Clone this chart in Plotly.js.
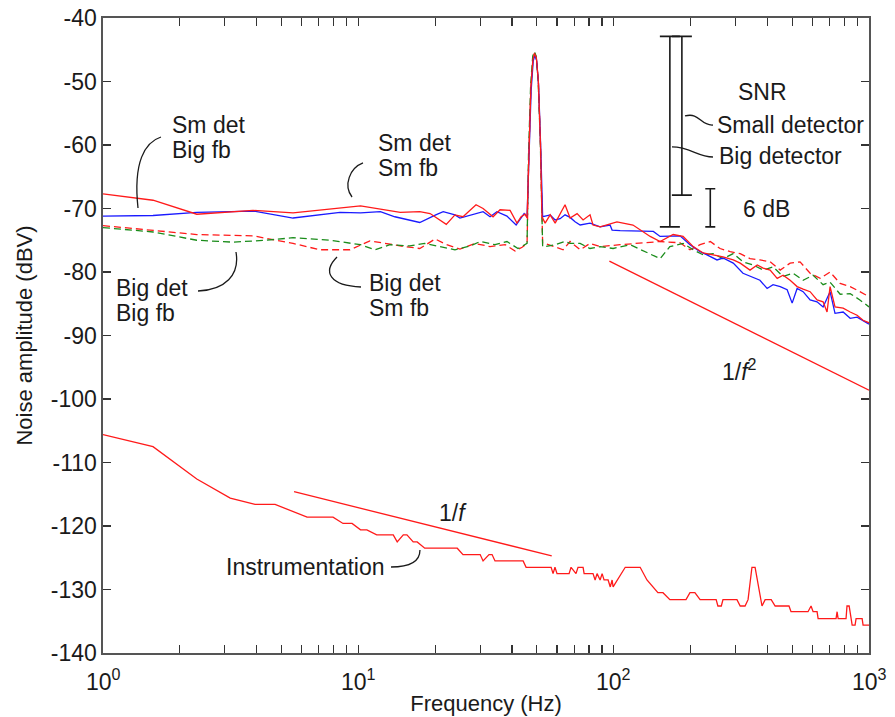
<!DOCTYPE html>
<html>
<head>
<meta charset="utf-8">
<script src="https://cdn.plot.ly/plotly-3.0.1.min.js"></script>
<style>
  html, body { margin: 0; padding: 0; background: #fff; }
  #chart { width: 895px; height: 717px; }
</style>
</head>
<body>
<div id="chart"></div>
<script>
// Noise spectra (dBV) versus frequency (Hz) for detector / feedback combinations.

// Small detector, small feedback (red solid)
const freqSmSm = [1.00, 1.57, 2.33, 3.87, 5.55, 8.48, 10.2, 14.6, 17.4, 19.1, 22.1, 23.9, 25.7, 28.9, 30.8, 33.7, 35.9, 39.3, 41.8, 43.4, 45.0, 45.8,
  46.5, 47.4, 48.3, 49.0, 49.8, 50.7, 51.7, 52.4,
  53.9, 56.4, 59.0, 61.7, 64.5, 67.5, 71.9, 75.9, 80.8, 83.0, 88.5, 103, 119, 139, 152, 171, 187, 205, 224, 245, 268, 294, 313, 342, 365, 385, 410, 437, 461, 491, 523, 552, 588, 626, 661, 685, 704, 736, 792, 844, 898, 948, 1000];
const ampSmSm = [-67.7, -68.7, -70.9, -70.3, -70.7, -69.9, -69.6, -70.6, -70.5, -70.8, -72.5, -71.0, -71.3, -69.4, -70.0, -71.3, -70.2, -70.3, -72.3, -71.3, -70.9, -71.5,
  -62.0, -51.0, -46.5, -45.6, -46.3, -50.0, -60.0, -71.3,
  -72.3, -71.0, -72.3, -70.8, -69.4, -71.5, -70.8, -71.8, -71.0, -72.6, -72.9, -72.1, -72.6, -74.4, -75.2, -74.1, -74.4, -76.0, -77.0, -77.3, -77.6, -78.1, -78.6, -79.7, -78.9, -79.4, -79.7, -81.0, -80.5, -81.3, -82.3, -82.7, -83.1, -84.4, -84.7, -86.3, -82.3, -85.5, -85.7, -86.3, -86.8, -87.6, -88.0];

// Small detector, big feedback (blue solid)
const freqSmBig = [1.00, 1.57, 2.33, 3.87, 5.55, 8.48, 10.2, 12.2, 13.9, 17.4, 20.1, 21.5, 23.9, 25.0, 30.8, 32.8, 34.9, 38.2, 41.5, 43.0, 44.6, 45.8,
  46.6, 47.5, 48.4, 49.1, 49.9, 50.8, 51.8, 52.7,
  53.9, 56.4, 59.0, 61.7, 64.5, 67.5, 70.6, 73.9, 80.8, 88.5, 96.8, 98.6, 106, 127, 143, 152, 166, 182, 199, 218, 232, 254, 268, 294, 321, 342, 374, 399, 421, 449, 478, 500, 523, 552, 588, 626, 661, 704, 736, 792, 844, 898, 948, 1000];
const ampSmBig = [-71.2, -71.1, -70.6, -70.4, -71.5, -70.6, -70.7, -70.5, -71.3, -72.2, -71.0, -70.5, -71.0, -71.5, -70.5, -71.3, -70.5, -71.2, -72.6, -71.8, -70.8, -71.3,
  -62.5, -51.5, -46.8, -45.9, -46.6, -50.5, -60.5, -71.3,
  -71.2, -71.0, -71.8, -71.6, -71.0, -71.4, -72.1, -72.6, -72.3, -72.9, -72.6, -73.4, -73.5, -73.6, -73.6, -74.4, -74.3, -74.3, -75.7, -76.8, -77.3, -78.1, -77.8, -78.6, -80.2, -80.7, -81.3, -82.6, -82.0, -82.3, -82.8, -84.9, -82.6, -83.1, -84.4, -84.7, -85.5, -83.1, -86.5, -86.3, -87.3, -87.1, -87.6, -88.2];

// Big detector, small feedback (red dashed)
const freqBigSm = [1.00, 1.57, 2.33, 3.87, 5.55, 7.08, 8.48, 9.28, 11.1, 12.7, 15.2, 17.4, 20.0, 21.9, 25.0, 28.6, 32.8, 37.6, 41.1, 43.8, 45.8,
  46.5, 47.4, 48.3, 49.0, 49.8, 50.7, 51.7, 52.7,
  53.9, 59.0, 63.4, 67.5, 73.9, 80.8, 88.5, 106, 127, 152, 182, 199, 218, 239, 261, 286, 313, 342, 374, 410, 449, 491, 537, 588, 644, 704, 771, 844, 921, 1000];
const ampBigSm = [-72.7, -73.5, -74.1, -74.3, -75.5, -76.5, -76.5, -76.5, -75.1, -75.5, -76.0, -76.3, -74.8, -75.6, -76.4, -75.5, -76.0, -75.7, -76.7, -76.1, -75.5,
  -62.0, -51.0, -46.3, -45.5, -46.2, -50.0, -60.0, -75.5,
  -75.5, -76.0, -76.5, -75.2, -76.5, -75.5, -76.0, -75.7, -75.5, -75.2, -75.4, -76.5, -75.7, -75.2, -76.3, -76.8, -77.1, -77.9, -78.1, -78.4, -79.7, -78.6, -78.4, -80.2, -81.0, -80.0, -81.8, -82.3, -83.1, -83.9];

// Big detector, big feedback (green dashed)
const freqBigBig = [1.00, 1.57, 2.33, 3.23, 4.35, 5.55, 7.75, 9.28, 10.2, 11.6, 13.3, 15.9, 18.2, 20.9, 23.9, 27.4, 30.0, 34.3, 38.2, 42.2, 45.8,
  46.4, 47.3, 48.2, 48.9, 49.7, 50.6, 51.6, 52.7,
  53.9, 59.0, 64.5, 67.5, 73.9, 80.8, 88.5, 99.5, 116, 139, 152, 166, 187, 205, 224, 245, 268, 294, 321, 352, 385, 421, 461, 504, 552, 604, 661, 704, 771, 844, 921, 1000];
const ampBigBig = [-73.0, -73.7, -75.0, -75.3, -75.0, -74.6, -75.0, -75.4, -75.7, -76.5, -75.7, -75.9, -75.5, -76.0, -76.5, -75.9, -75.2, -75.7, -75.2, -76.3, -75.5,
  -61.5, -50.5, -46.0, -45.3, -46.0, -49.8, -59.5, -76.0,
  -76.0, -75.7, -75.2, -75.5, -75.5, -76.3, -76.0, -76.3, -75.7, -77.1, -77.9, -76.0, -75.5, -76.5, -77.3, -77.1, -77.9, -77.1, -78.4, -78.9, -79.7, -79.2, -80.7, -80.2, -81.3, -80.5, -82.0, -81.6, -83.5, -83.4, -84.4, -85.5];

// Instrumentation noise floor (red solid)
const freqInstr = [1.00, 1.57, 2.33, 3.15, 3.94, 4.72, 6.30, 7.96, 8.71, 9.45, 10.2, 10.8, 11.8, 13.7, 14.2, 15.0, 15.5, 16.4, 17.0, 18.2, 24.4, 25.7, 30.0, 30.8, 32.5, 33.4, 34.3, 44.2, 45.4,
  56.9, 57.9, 58.9, 60.0, 66.9, 68.1, 71.2, 72.5, 75.9, 76.6, 83.0, 84.6, 86.1, 88.5, 90.1, 91.7, 95.1, 97.0, 98.6, 99.5, 111, 127, 135, 149, 156, 166, 192, 199, 208, 218, 252, 256, 264, 268, 304, 313, 327, 336, 348, 358, 381, 392, 414, 429, 486, 495, 577, 593, 604, 626, 632, 743, 750, 757, 813, 820, 836, 859, 882, 890, 940, 948, 1000];
const ampInstr = [-105.6, -107.5, -112.6, -115.6, -116.6, -116.6, -118.6, -118.6, -119.6, -119.6, -120.6, -120.6, -121.4, -121.4, -122.5, -121.4, -121.4, -122.5, -122.5, -123.5, -123.5, -124.5, -124.5, -125.5, -124.5, -124.5, -125.5, -125.5, -126.5,
  -126.5, -127.5, -126.5, -127.5, -127.5, -126.5, -127.5, -126.5, -126.5, -127.5, -127.5, -128.5, -127.5, -128.5, -127.5, -128.5, -128.5, -129.6, -128.5, -129.6, -126.5, -126.5, -128.5, -130.5, -130.5, -131.6, -131.6, -130.5, -130.5, -131.6, -131.6, -132.6, -132.6, -131.6, -131.6, -132.6, -132.6, -131.6, -126.5, -126.5, -132.6, -131.6, -131.6, -132.6, -132.6, -133.5, -133.5, -132.6, -133.5, -133.5, -134.6, -134.6, -133.5, -134.6, -134.6, -132.6, -132.6, -135.6, -135.6, -134.6, -134.6, -135.6, -135.6];

// Slope guides
const freqOneOverF = [5.6, 57.2];
const ampOneOverF = [-114.6, -124.7];
const freqOneOverF2 = [96.2, 1000];
const ampOneOverF2 = [-78.3, -98.6];

// Signal-to-noise spans (dB) hanging from the signal peak, plus a 6 dB scale bar
const snrTop = -42.9;
const snrBigDet = 30;
const snrSmallDet = 25;
const snrFreq = [166, 185];
const scaleBarDb = 6;
const scaleBarBottom = -72.9;
const scaleBarFreq = 239;

// Axis ticks
const decades = [1, 10, 100, 1000];
const decadeLabels = ['10<sup>0</sup>', '10<sup>1</sup>', '10<sup>2</sup>', '10<sup>3</sup>'];
const yTicks = [-140, -130, -120, -110, -100, -90, -80, -70, -60, -50, -40];

const RED = '#ff1a1a', BLUE = '#1a1aff', GREEN = '#1a8c1a', INK = '#1a1a1a';
const FONT = 'Liberation Sans, Arial, sans-serif';
const FS = 23;

// Log ticks at every digit; decade labels are drawn as annotations below the axis
const xTickVals = [];
decades.forEach(d => {
  const top = d === 1000 ? 1 : 9;
  for (let k = 1; k <= top; k++) xTickVals.push(d * k);
});

function line(x, y, color, dash) {
  return { x, y, type: 'scatter', mode: 'lines', hoverinfo: 'skip',
    line: { color, width: 1.3, dash: dash || 'solid' } };
}
function span(f, top, depth, cap) {
  return { x: [f], y: [top - depth / 2], type: 'scatter', mode: 'markers', hoverinfo: 'skip',
    marker: { size: 1, color: 'rgba(0,0,0,0)' },
    error_y: { type: 'data', symmetric: true, array: [depth / 2], width: cap, thickness: 1.6, color: INK } };
}

const traces = [
  line(freqBigSm, ampBigSm, RED, '7px,4px'),
  line(freqBigBig, ampBigBig, GREEN, '7px,4px'),
  line(freqSmBig, ampSmBig, BLUE),
  line(freqSmSm, ampSmSm, RED),
  line(freqInstr, ampInstr, RED),
  line(freqOneOverF, ampOneOverF, RED),
  line(freqOneOverF2, ampOneOverF2, RED),
  span(snrFreq[0], snrTop, snrBigDet, 10),
  span(snrFreq[1], snrTop, snrSmallDet, 10),
  span(scaleBarFreq, scaleBarBottom + scaleBarDb, scaleBarDb, 5)
];

// Plot-area pixel frame, used to place labels and leader curves in paper units
const L = 103, R = 869, T = 18, B = 653;
const px = x => ((x - L) / (R - L)).toFixed(4);
const py = y => ((B - y) / (B - T)).toFixed(4);
function path(cmds) {
  return cmds.map(c => c[0] + ' ' + c.slice(1).map((v, i) => i % 2 === 0 ? px(v) : py(v)).join(' ')).join(' ');
}
function leader(cmds) {
  return { type: 'path', xref: 'paper', yref: 'paper', path: path(cmds),
    line: { color: INK, width: 1.3 } };
}
function label(text, x, y, xanchor, extra) {
  return Object.assign({ text, xref: 'paper', yref: 'paper', x: +px(x), y: +py(y),
    xanchor: xanchor || 'left', yanchor: 'middle', align: 'left', showarrow: false,
    font: { family: FONT, size: FS, color: INK } }, extra || {});
}

const shapes = [
  leader([['M', 161, 137], ['C', 145, 142, 133, 162, 138, 208]]),
  leader([['M', 363, 163], ['C', 350, 168, 343, 185, 352, 197]]),
  leader([['M', 198, 291], ['C', 225, 290, 240, 275, 236, 252]]),
  leader([['M', 337, 257], ['C', 322, 272, 330, 286, 361, 287]]),
  leader([['M', 391, 567], ['C', 410, 567, 420, 562, 420, 550]]),
  leader([['M', 685, 116], ['C', 700, 112, 700, 126, 713, 125]]),
  leader([['M', 672, 147], ['C', 690, 147, 698, 157, 713, 157]])
];

const annotations = [
  label('Sm det', 170, 125), label('Big fb', 170, 150),
  label('Sm det', 376, 143), label('Sm fb', 376, 168),
  label('Big det', 114, 288), label('Big fb', 114, 313),
  label('Big det', 367, 283), label('Sm fb', 367, 308),
  label('Instrumentation', 224, 567),
  label('1/<i>f</i>', 437, 513),
  label('1/<i>f</i><sup>2</sup>', 720, 370),
  label('SNR', 763, 92, 'center'),
  label('Small detector', 715, 125),
  label('Big detector', 717, 156),
  label('6 dB', 741, 209)
].concat(decades.map((d, i) => ({
  text: decadeLabels[i], xref: 'x', yref: 'paper', x: Math.log10(d), y: +py(680),
  xanchor: 'center', yanchor: 'middle', showarrow: false,
  font: { family: FONT, size: FS, color: INK }
})));

const axisCommon = {
  showgrid: false, zeroline: false, showline: true, mirror: 'allticks',
  linecolor: '#555', linewidth: 1.6, ticks: 'inside', ticklen: 8, tickwidth: 1.2, tickcolor: '#333',
  tickfont: { family: FONT, size: FS, color: INK }, automargin: false
};

const layout = {
  width: 895, height: 717,
  margin: { l: L, r: 895 - R, t: T, b: 717 - B },
  paper_bgcolor: '#fff', plot_bgcolor: '#fff',
  showlegend: false, hovermode: false,
  xaxis: Object.assign({}, axisCommon, {
    type: 'log', range: [0, 3], tickmode: 'array', tickvals: xTickVals, showticklabels: false,
    title: { text: 'Frequency (Hz)', font: { family: FONT, size: 22, color: INK }, standoff: 42 }
  }),
  yaxis: Object.assign({}, axisCommon, {
    range: [-140, -40], tickmode: 'array', tickvals: yTicks, ticktext: yTicks.map(v => String(v)),
    title: { text: 'Noise amplitude (dBV)', font: { family: FONT, size: 22, color: INK }, standoff: 12 }
  }),
  shapes, annotations
};

Plotly.newPlot('chart', traces, layout, { staticPlot: true, displayModeBar: false });
</script>
</body>
</html>
